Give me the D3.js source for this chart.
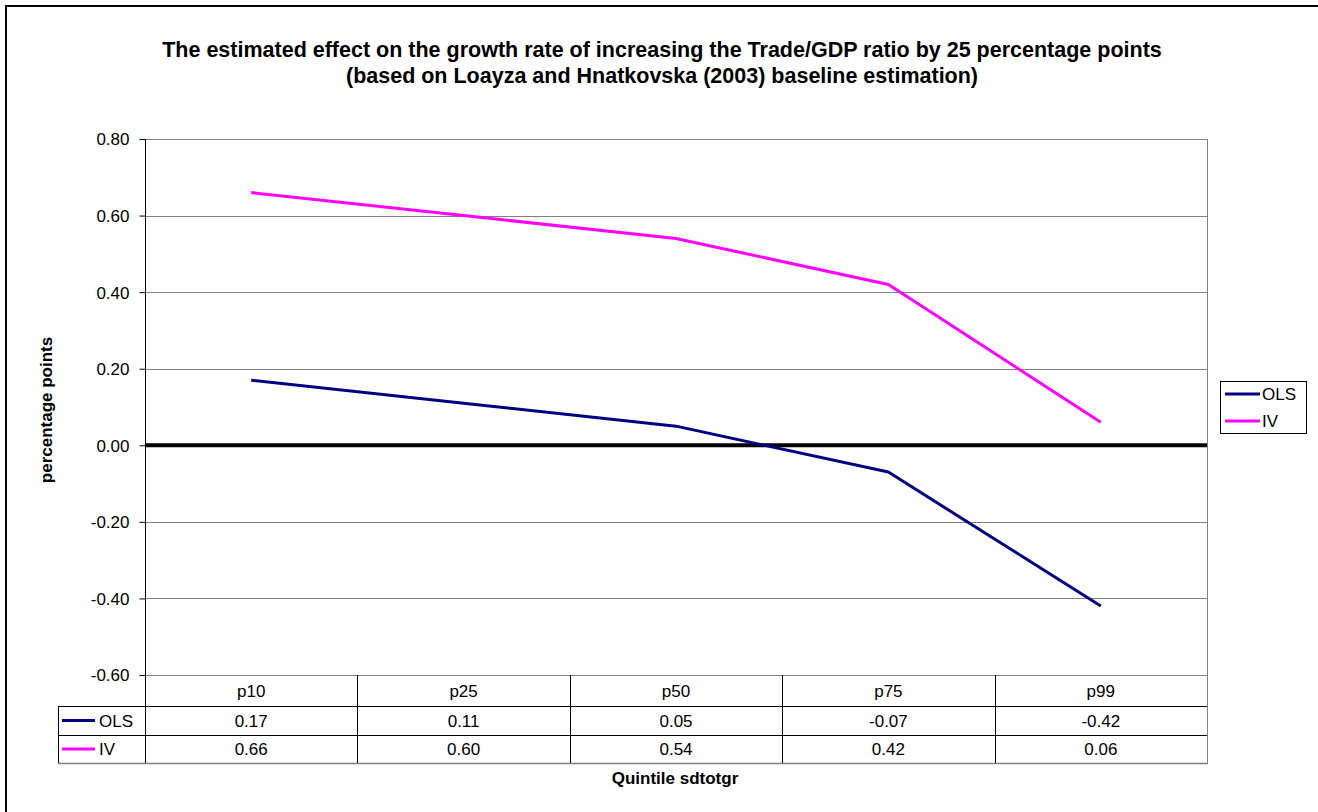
<!DOCTYPE html>
<html>
<head>
<meta charset="utf-8">
<script src="https://cdn.jsdelivr.net/npm/d3@7"></script>
<style>
  html, body { margin: 0; padding: 0; background: #fff; }
  svg { display: block; font-family: "Liberation Sans", Arial, sans-serif; }
</style>
</head>
<body>
<svg id="chart" width="1318" height="812"></svg>
<script>
// Quantiles of sdtotgr and the estimated growth effects
const categories = ["p10", "p25", "p50", "p75", "p99"];
const olsValues = [0.17, 0.11, 0.05, -0.07, -0.42];
const ivValues = [0.66, 0.60, 0.54, 0.42, 0.06];
const seriesNames = ["OLS", "IV"];
const seriesColors = ["#000080", "#FF00FF"];
const yTicks = [-0.6, -0.4, -0.2, 0, 0.2, 0.4, 0.6, 0.8];
const titleLines = [
  "The estimated effect on the growth rate of increasing the Trade/GDP ratio by 25 percentage points",
  "(based on Loayza and Hnatkovska (2003) baseline estimation)"
];

const series = seriesNames.map((name, i) => ({
  name, color: seriesColors[i], values: [olsValues, ivValues][i]
}));

// Plain hyphen for negative numbers
const fmt = d3.formatLocale({
  decimal: ".", thousands: ",", grouping: [3], currency: ["$", ""], minus: "-"
}).format(".2f");

const FONT = 17;
const svg = d3.select("#chart");

// Frame
svg.append("rect")
  .attr("x", 6).attr("y", 6).attr("width", 1320).attr("height", 820)
  .attr("fill", "none").attr("stroke", "#000").attr("stroke-width", 2);

const plot = { left: 145, right: 1207, top: 139, bottom: 675 };

const x = d3.scaleBand().domain(categories).range([plot.left, plot.right]);
const xc = c => x(c) + x.bandwidth() / 2;
const y = d3.scaleLinear().domain([-0.6, 0.8]).range([plot.bottom, plot.top]);

// Title
svg.append("g").selectAll("text").data(titleLines).join("text")
  .attr("x", 662).attr("y", (d, i) => 57 + i * 25.5)
  .attr("text-anchor", "middle")
  .attr("font-size", 21.5).attr("font-weight", "bold")
  .text(d => d);

// Gridlines
svg.append("g").selectAll("line").data(yTicks.filter(v => v > -0.6)).join("line")
  .attr("x1", plot.left).attr("x2", plot.right)
  .attr("y1", d => Math.round(y(d)) + 0.5).attr("y2", d => Math.round(y(d)) + 0.5)
  .attr("stroke", "#808080").attr("stroke-width", 1);

// Right plot border
svg.append("line")
  .attr("x1", plot.right + 0.5).attr("x2", plot.right + 0.5)
  .attr("y1", plot.top).attr("y2", plot.bottom)
  .attr("stroke", "#808080");

// Zero line
svg.append("line")
  .attr("x1", plot.left).attr("x2", plot.right)
  .attr("y1", y(0)).attr("y2", y(0))
  .attr("stroke", "#000").attr("stroke-width", 4);

// Y axis
const yAxis = svg.append("g")
  .attr("transform", `translate(${plot.left + 0.5},0)`)
  .attr("font-size", FONT)
  .attr("font-family", "Liberation Sans, Arial, sans-serif")
  .call(d3.axisLeft(y).tickValues(yTicks).tickFormat(fmt)
    .tickSize(6).tickPadding(10));
yAxis.attr("font-size", FONT).attr("font-family", "Liberation Sans, Arial, sans-serif");
yAxis.select(".domain").attr("stroke", "#000").attr("d", `M0,${plot.top}V${plot.bottom}`);
yAxis.selectAll(".tick line").attr("stroke", "#000");
yAxis.selectAll(".tick text").attr("fill", "#000").attr("dy", "0.35em");

// Y label
svg.append("text")
  .attr("transform", "translate(52,410) rotate(-90)")
  .attr("text-anchor", "middle")
  .attr("font-size", FONT).attr("font-weight", "bold")
  .text("percentage points");

// Series lines
const line = d3.line().x((d, i) => xc(categories[i])).y(d => y(d));
svg.append("g").selectAll("path").data(series).join("path")
  .attr("d", d => line(d.values))
  .attr("fill", "none")
  .attr("stroke", d => d.color)
  .attr("stroke-width", 3)
  .attr("stroke-linejoin", "round");

// Legend
const legend = svg.append("g");
legend.append("rect")
  .attr("x", 1220.5).attr("y", 381.5).attr("width", 86).attr("height", 52)
  .attr("fill", "#fff").attr("stroke", "#000");
const lg = legend.selectAll("g").data(series).join("g")
  .attr("transform", (d, i) => `translate(0,${394 + i * 27})`);
lg.append("line").attr("x1", 1225).attr("x2", 1260).attr("y1", 0).attr("y2", 0)
  .attr("stroke", d => d.color).attr("stroke-width", 3);
lg.append("text").attr("x", 1262).attr("y", 0).attr("dy", "0.36em")
  .attr("font-size", FONT).text(d => d.name);

// Data table
const rowY = [675, 706, 735, 763];
const tableLeft = 58;
const table = svg.append("g");

// category row
table.selectAll("text.cat").data(categories).join("text")
  .attr("class", "cat")
  .attr("x", d => xc(d)).attr("y", (rowY[0] + rowY[1]) / 2).attr("dy", "0.36em")
  .attr("text-anchor", "middle").attr("font-size", FONT)
  .text(d => d);

// value rows
series.forEach((s, r) => {
  const cy = (rowY[r + 1] + rowY[r + 2]) / 2;
  table.selectAll(`text.v${r}`).data(s.values).join("text")
    .attr("class", `v${r}`)
    .attr("x", (d, i) => xc(categories[i])).attr("y", cy).attr("dy", "0.36em")
    .attr("text-anchor", "middle").attr("font-size", FONT)
    .text(d => fmt(d));
  table.append("line").attr("x1", 62).attr("x2", 95).attr("y1", cy).attr("y2", cy)
    .attr("stroke", s.color).attr("stroke-width", 3);
  table.append("text").attr("x", 99).attr("y", cy).attr("dy", "0.36em")
    .attr("font-size", FONT).text(s.name);
});

// table horizontal rules
table.append("line").attr("x1", plot.left).attr("x2", plot.right)
  .attr("y1", rowY[0] + 0.5).attr("y2", rowY[0] + 0.5).attr("stroke", "#808080");
[rowY[1], rowY[2]].forEach(yy => {
  table.append("line").attr("x1", tableLeft).attr("x2", plot.right)
    .attr("y1", yy + 0.5).attr("y2", yy + 0.5).attr("stroke", "#000");
});
table.append("line").attr("x1", tableLeft).attr("x2", plot.right + 1)
  .attr("y1", rowY[3] + 0.5).attr("y2", rowY[3] + 0.5).attr("stroke", "#808080").attr("stroke-width", 1.5);

// table vertical rules
const colEdges = categories.map(c => x(c)).concat([plot.right]);
table.selectAll("line.col").data(colEdges).join("line")
  .attr("class", "col")
  .attr("x1", d => Math.round(d) + 0.5).attr("x2", d => Math.round(d) + 0.5)
  .attr("y1", rowY[0]).attr("y2", rowY[3])
  .attr("stroke", (d, i) => i === colEdges.length - 1 ? "#808080" : "#000");
table.append("line").attr("x1", tableLeft + 0.5).attr("x2", tableLeft + 0.5)
  .attr("y1", rowY[1]).attr("y2", rowY[3]).attr("stroke", "#000");

// X label
svg.append("text")
  .attr("x", 675).attr("y", 784)
  .attr("text-anchor", "middle")
  .attr("font-size", FONT).attr("font-weight", "bold")
  .text("Quintile sdtotgr");
</script>
</body>
</html>
